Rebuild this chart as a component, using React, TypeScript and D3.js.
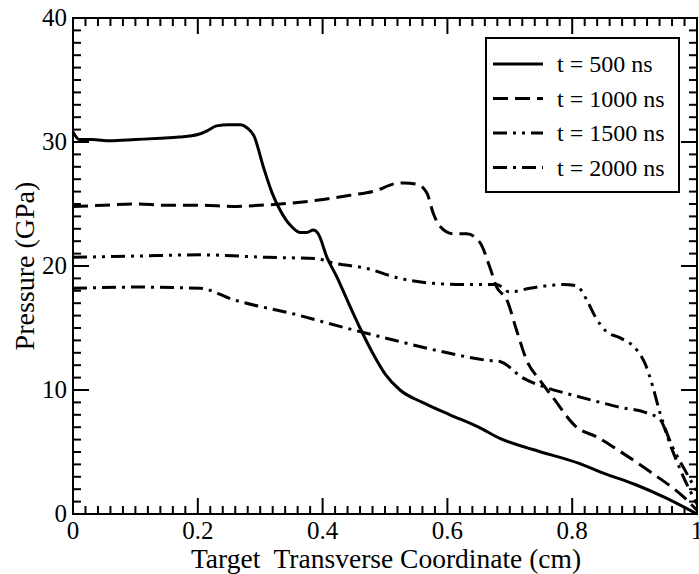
import React from "react";
import * as d3 from "d3";

const x500 = [0, 0.01, 0.03, 0.06, 0.1, 0.14, 0.17, 0.2, 0.215, 0.23, 0.25, 0.268, 0.28, 0.29, 0.305, 0.319, 0.332, 0.348, 0.364, 0.375, 0.385, 0.393, 0.407, 0.423, 0.439, 0.46, 0.48, 0.5, 0.524, 0.56, 0.604, 0.65, 0.684, 0.737, 0.81, 0.85, 0.9, 0.95, 1.0];
const p500 = [30.8, 30.2, 30.2, 30.1, 30.2, 30.3, 30.4, 30.6, 30.9, 31.3, 31.4, 31.4, 31.1, 30.5, 28.0, 25.9, 24.5, 23.3, 22.7, 22.7, 22.9, 22.6, 20.7, 19.1, 17.3, 15.0, 13.0, 11.3, 10.0, 9.0, 8.0, 7.0, 6.1, 5.2, 4.1, 3.3, 2.4, 1.3, 0];

const x1000 = [0, 0.05, 0.1, 0.15, 0.204, 0.256, 0.3, 0.332, 0.391, 0.444, 0.487, 0.513, 0.53, 0.551, 0.567, 0.577, 0.588, 0.609, 0.631, 0.652, 0.668, 0.679, 0.695, 0.711, 0.727, 0.748, 0.769, 0.807, 0.84, 0.872, 0.925, 0.978, 1.0];
const p1000 = [24.8, 24.9, 25.0, 24.9, 24.9, 24.8, 24.9, 25.0, 25.3, 25.7, 26.1, 26.6, 26.7, 26.6, 25.9, 24.3, 23.2, 22.6, 22.6, 21.9, 19.9, 18.3, 17.3, 14.8, 12.4, 10.8, 9.4, 7.0, 6.2, 5.2, 3.4, 1.4, 0.3];

const x1500 = [0, 0.1, 0.204, 0.31, 0.391, 0.412, 0.471, 0.524, 0.577, 0.631, 0.679, 0.7, 0.732, 0.785, 0.807, 0.823, 0.837, 0.855, 0.877, 0.904, 0.917, 0.929, 0.941, 0.96, 0.98, 1.0];
const p1500 = [20.7, 20.8, 20.9, 20.7, 20.6, 20.3, 19.8, 19.0, 18.6, 18.5, 18.5, 17.9, 18.2, 18.5, 18.4, 17.3, 15.9, 14.7, 14.2, 13.2, 12.1, 10.3, 8.1, 5.5, 3.6, 1.8];

const x2000 = [0, 0.1, 0.204, 0.256, 0.364, 0.4, 0.5, 0.6, 0.663, 0.684, 0.72, 0.758, 0.8, 0.845, 0.877, 0.917, 0.941, 0.96, 0.98, 1.0];
const p2000 = [18.2, 18.3, 18.2, 17.3, 16.0, 15.5, 14.2, 13.0, 12.4, 12.3, 11.0, 10.2, 9.6, 9.0, 8.6, 8.2, 7.6, 5.2, 2.8, 0.8];

const seriesLabels = ["t = 500 ns", "t = 1000 ns", "t = 1500 ns", "t = 2000 ns"];
const xTickLabels = ["0", "0.2", "0.4", "0.6", "0.8", "1"];
const yTickLabels = ["0", "10", "20", "30", "40"];

const W = 699, H = 574;
const L = 73, R = 697, T = 18, B = 514;
const FONT = "'Liberation Serif', 'Times New Roman', serif";

export default function App() {
  const x = d3.scaleLinear().domain([0, 1]).range([L, R]);
  const y = d3.scaleLinear().domain([0, 40]).range([B, T]);
  const line = d3.line<[number, number]>().x(d => x(d[0])).y(d => y(d[1])).curve(d3.curveMonotoneX);
  const series = [
    { xs: x500, ps: p500, dash: "none" },
    { xs: x1000, ps: p1000, dash: "15,7" },
    { xs: x1500, ps: p1500, dash: "14,6,3,6,3,6" },
    { xs: x2000, ps: p2000, dash: "14,6,3,6" },
  ];
  const xMinor = d3.range(0, 51).map(i => i * 0.02);
  const yMinor = d3.range(0, 41);
  const isMajorX = (v: number) => Math.abs(v * 5 - Math.round(v * 5)) < 1e-6;
  return (
    <svg width={W} height={H} style={{ position: "absolute", left: 0, top: 0, background: "#fff" }}>
      <rect x={0} y={0} width={W} height={H} fill="#fff" />
      {series.map((s, i) => (
        <path key={i} d={line(s.xs.map((v, j) => [v, s.ps[j]] as [number, number])) || ""}
          fill="none" stroke="#000" strokeWidth={3} strokeDasharray={s.dash} strokeLinejoin="round" />
      ))}
      <rect x={L} y={T} width={R - L} height={B - T} fill="none" stroke="#000" strokeWidth={2} />
      {xMinor.map((v, i) => {
        const len = isMajorX(v) ? 16 : 8;
        return (
          <g key={"xt" + i}>
            <line x1={x(v)} x2={x(v)} y1={B} y2={B - len} stroke="#000" strokeWidth={2} />
            <line x1={x(v)} x2={x(v)} y1={T} y2={T + len} stroke="#000" strokeWidth={2} />
          </g>
        );
      })}
      {yMinor.map((v, i) => {
        const len = v % 10 === 0 ? 16 : 8;
        return (
          <g key={"yt" + i}>
            <line x1={L} x2={L + len} y1={y(v)} y2={y(v)} stroke="#000" strokeWidth={2} />
            <line x1={R} x2={R - len} y1={y(v)} y2={y(v)} stroke="#000" strokeWidth={2} />
          </g>
        );
      })}
      {xTickLabels.map((t, i) => (
        <text key={"xl" + i} x={x(i * 0.2)} y={539} textAnchor="middle" fontFamily={FONT} fontSize={25}>{t}</text>
      ))}
      {yTickLabels.map((t, i) => (
        <text key={"yl" + i} x={L - 6} y={y(i * 10) + 8} textAnchor="end" fontFamily={FONT} fontSize={25}>{t}</text>
      ))}
      <text x={386} y={568} textAnchor="middle" fontFamily={FONT} fontSize={27.5} style={{ whiteSpace: "pre" }}>{"Target  Transverse Coordinate (cm)"}</text>
      <text transform={`translate(34,266) rotate(-90)`} textAnchor="middle" fontFamily={FONT} fontSize={28}>Pressure (GPa)</text>
      <rect x={486} y={38} width={193} height={154} fill="#fff" stroke="#000" strokeWidth={2} />
      {seriesLabels.map((lab, i) => {
        const yy = 64 + i * 34.5;
        return (
          <g key={"lg" + i}>
            <line x1={493} x2={543} y1={yy} y2={yy} stroke="#000" strokeWidth={3} strokeDasharray={series[i].dash} />
            <text x={557} y={yy + 8} fontFamily={FONT} fontSize={24}>{lab}</text>
          </g>
        );
      })}
    </svg>
  );
}
